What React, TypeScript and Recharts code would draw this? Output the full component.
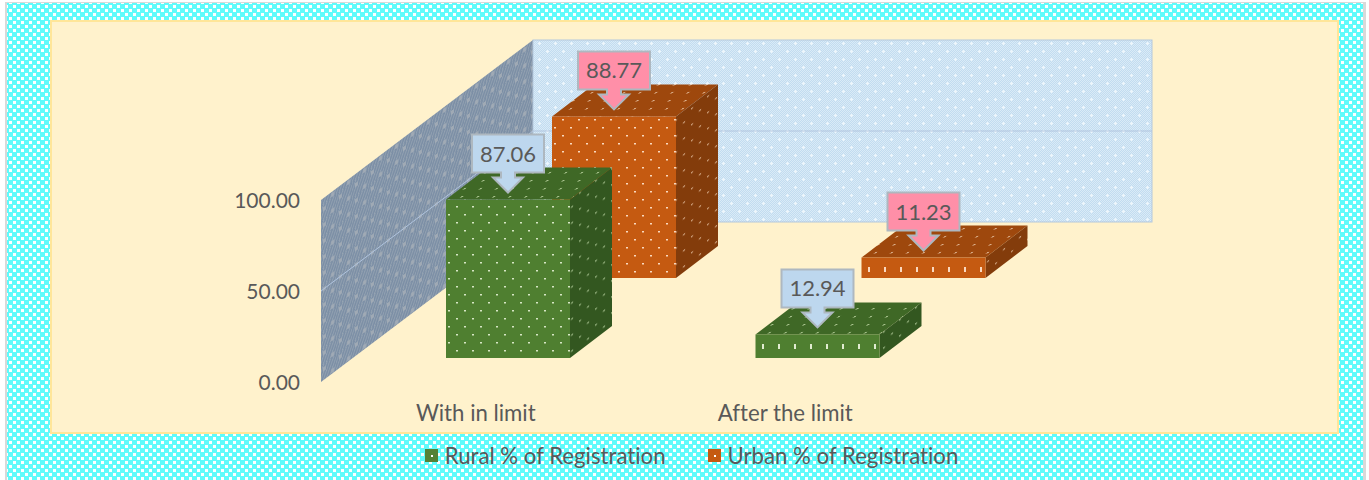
import { BarChart, Bar, XAxis, YAxis, Legend, LabelList, usePlotArea } from 'recharts';

const categories = ['With in limit', 'After the limit'];
const ruralValues = [87.06, 12.94];
const urbanValues = [88.77, 11.23];
const yTicks = [0, 50, 100];

const data = categories.map((name, i) => ({ name, rural: ruralValues[i], urban: urbanValues[i] }));

const FONT = 'Lato, "Open Sans", sans-serif';
const TEXT = '#595959';

// oblique projection of the old 3D column chart
const WALL_DX = 212;
const WALL_DY = -160;
const BAR_DX = 42;
const BAR_DY = -32;
const RURAL_SHIFT = { dx: 32, dy: -24 };
const URBAN_SHIFT = { dx: 138, dy: -104 };

function Patterns() {
  // staggered dot tile, ox/oy put the first dot where the original has it
  const dots = (id: string, base: string, dot: string, ox: number, oy: number, transform?: string) => (
    <pattern id={id} x={ox} y={oy} width={16} height={16} patternUnits="userSpaceOnUse" patternTransform={transform}>
      <rect width={16} height={16} fill={base} />
      <rect x={0} y={0} width={2} height={1.5} fill={dot} />
      <rect x={8} y={8} width={2} height={1.5} fill={dot} />
    </pattern>
  );
  // single row of dots for the very low columns
  const row = (id: string, base: string, dot: string, ox: number, oy: number) => (
    <pattern id={id} x={ox} y={oy} width={16} height={40} patternUnits="userSpaceOnUse">
      <rect width={16} height={40} fill={base} />
      <rect x={0} y={0} width={2} height={5} fill={dot} />
    </pattern>
  );
  return (
    <defs>
      <pattern id="framePattern" width={8} height={8} patternUnits="userSpaceOnUse">
        <rect width={8} height={8} fill="#5ffbfb" />
        <rect x={1} y={1} width={3} height={3} fill="#ffffff" />
        <rect x={5} y={5} width={3} height={3} fill="#ffffff" />
      </pattern>
      {dots('ruralFront', '#4f7f30', '#d6e6c4', 8, 14)}
      {dots('ruralTop', '#3f6826', '#a9c48e', 2, 4, 'skewX(-53)')}
      {dots('ruralSide', '#335720', '#98b482', 3, 5, 'skewY(-37)')}
      {dots('urbanFront', '#c55a11', '#fad9bf', 2, 7)}
      {dots('urbanTop', '#9e480d', '#dcb08c', 2, 4, 'skewX(-53)')}
      {dots('urbanSide', '#833c0b', '#cc9e7a', 3, 5, 'skewY(-37)')}
      {row('ruralRow', '#4f7f30', '#e0ecd0', 10, 344)}
      {row('urbanRow', '#c55a11', '#fad9bf', 4, 267)}
      <pattern id="backFine" width={2} height={2} patternUnits="userSpaceOnUse">
        <rect width={2} height={2} fill="#c2dcf0" />
        <rect width={1} height={1} fill="#daebf7" />
        <rect x={1} y={1} width={1} height={1} fill="#daebf7" />
      </pattern>
      <pattern id="backWall" width={16} height={16} patternUnits="userSpaceOnUse">
        <rect width={16} height={16} fill="url(#backFine)" />
        <rect x={2} y={3} width={3} height={1} fill="#edf6fc" />
        <rect x={3} y={2} width={1} height={3} fill="#edf6fc" />
        <rect x={10} y={11} width={3} height={1} fill="#edf6fc" />
        <rect x={11} y={10} width={1} height={3} fill="#edf6fc" />
      </pattern>
      <pattern id="wallHatch" width={3} height={3} patternUnits="userSpaceOnUse" patternTransform="rotate(25)">
        <rect width={3} height={3} fill="#7b8ea5" />
        <rect width={1} height={3} fill="#98a6b4" />
      </pattern>
      <pattern id="sideWall" width={16} height={16} patternUnits="userSpaceOnUse" patternTransform="skewY(-37)">
        <rect width={16} height={16} fill="url(#wallHatch)" />
        <rect x={3} y={3} width={3} height={4} fill="#a0aab5" />
        <rect x={11} y={11} width={3} height={4} fill="#a0aab5" />
      </pattern>
    </defs>
  );
}

function Frame() {
  return (
    <g>
      <rect x={5} y={2} width={1361} height={478} fill="#d9d9d9" />
      <rect x={7} y={3} width={1356} height={477} fill="url(#framePattern)" />
      <rect x={51} y={21} width={1287} height={412} fill="#fff2cc" stroke="#ffe699" strokeWidth={2} />
    </g>
  );
}

function Walls() {
  const plot = usePlotArea();
  if (!plot) return null;
  const { x: left, y: top, width, height } = plot;
  const bottom = top + height;
  const yOf = (v: number) => bottom - (v / 100) * height;
  const backLeft = left + WALL_DX;
  const backRight = backLeft + width;
  return (
    <g>
      <polygon
        points={`${left},${bottom} ${left},${top} ${backLeft},${top + WALL_DY} ${backLeft},${bottom + WALL_DY}`}
        fill="url(#sideWall)"
      />
      <rect x={backLeft} y={top + WALL_DY} width={width} height={height} fill="url(#backWall)" stroke="#b4c7dc" />
      {yTicks.slice(1, -1).map((t) => (
        <polyline
          key={t}
          points={`${left},${yOf(t)} ${backLeft},${yOf(t) + WALL_DY} ${backRight},${yOf(t) + WALL_DY}`}
          fill="none"
          stroke="#b0c4de"
          strokeWidth={1}
        />
      ))}
    </g>
  );
}

function Cuboid(props: any, prefix: string, shift: { dx: number; dy: number }) {
  const { x, y, width, height } = props;
  const fx = x + shift.dx;
  const fy = y + shift.dy;
  const right = fx + width;
  const base = fy + height;
  const front = height < 40 ? `url(#${prefix}Row)` : `url(#${prefix}Front)`;
  return (
    <g>
      <polygon
        points={`${fx},${fy} ${right},${fy} ${right + BAR_DX},${fy + BAR_DY} ${fx + BAR_DX},${fy + BAR_DY}`}
        fill={`url(#${prefix}Top)`}
      />
      <polygon
        points={`${right},${fy} ${right + BAR_DX},${fy + BAR_DY} ${right + BAR_DX},${base + BAR_DY} ${right},${base}`}
        fill={`url(#${prefix}Side)`}
      />
      <rect x={fx} y={fy} width={width} height={height} fill={front} />
    </g>
  );
}

function Callout(props: any, fill: string, shift: { dx: number; dy: number }) {
  const { x, y, width, value } = props;
  const cx = x + shift.dx + width / 2;
  const tip = y + shift.dy - 7;
  const d = `M${cx - 36},${tip - 58} H${cx + 36} V${tip - 20} H${cx + 7} V${tip - 15} H${cx + 15} L${cx},${tip} L${cx - 15},${tip - 15} H${cx - 7} V${tip - 20} H${cx - 36} Z`;
  return (
    <g>
      <path d={d} fill={fill} stroke="#aeb8c0" strokeWidth={2} />
      <text x={cx} y={tip - 31} textAnchor="middle" fontFamily={FONT} fontSize={22} fill={TEXT}>
        {Number(value).toFixed(2)}
      </text>
    </g>
  );
}

function LegendContent({ payload }: any) {
  const items = [...(payload ?? [])].sort((a, b) => String(a.dataKey).localeCompare(String(b.dataKey)));
  return (
    <div style={{ display: 'flex', justifyContent: 'center', gap: 42, paddingLeft: 14, fontFamily: FONT, fontSize: 22.2, color: TEXT, height: 30, alignItems: 'center' }}>
      {items.map((item: any) => (
        <span key={item.dataKey} style={{ display: 'inline-flex', alignItems: 'center', gap: 7 }}>
          <span style={{ width: 13, height: 13, background: item.color, display: 'inline-block', position: 'relative' }}>
            <span style={{ position: 'absolute', left: 6, top: 6, width: 2, height: 2, background: '#fff' }} />
          </span>
          {item.value}
        </span>
      ))}
    </div>
  );
}

export default function App() {
  return (
    <div style={{ position: 'absolute', left: 0, top: 0, width: 1369, height: 480, overflow: 'hidden', fontVariantLigatures: 'none' }}>
      <BarChart
        width={1369}
        height={480}
        data={data}
        barSize={124}
        barGap={-124}
        margin={{ top: 200, right: 429, bottom: 18, left: 261 }}
      >
        <Patterns />
        <Frame />
        <Walls />
        <XAxis
          dataKey="name"
          axisLine={false}
          tickLine={false}
          tickSize={0}
          tickMargin={23}
          height={50}
          interval={0}
          tick={{ fontFamily: FONT, fontSize: 22.2, fill: TEXT }}
        />
        <YAxis
          width={60}
          domain={[0, 100]}
          ticks={yTicks}
          axisLine={false}
          tickLine={false}
          tickSize={0}
          tickMargin={21}
          tickFormatter={(v: number) => v.toFixed(2)}
          tick={{ fontFamily: FONT, fontSize: 21, fill: TEXT, dy: 1 }}
        />
        <Legend
          verticalAlign="bottom"
          content={<LegendContent />}
          wrapperStyle={{ left: 0, width: 1369, bottom: 10 }}
        />
        <Bar
          dataKey="urban"
          name="Urban % of Registration"
          fill="#c55a11"
          isAnimationActive={false}
          shape={(p: any) => Cuboid(p, 'urban', URBAN_SHIFT)}
        >
          <LabelList dataKey="urban" content={(p: any) => Callout(p, '#ff8fa8', URBAN_SHIFT)} />
        </Bar>
        <Bar
          dataKey="rural"
          name="Rural % of Registration"
          fill="#548235"
          isAnimationActive={false}
          shape={(p: any) => Cuboid(p, 'rural', RURAL_SHIFT)}
        >
          <LabelList dataKey="rural" content={(p: any) => Callout(p, '#bdd7ee', RURAL_SHIFT)} />
        </Bar>
      </BarChart>
    </div>
  );
}
